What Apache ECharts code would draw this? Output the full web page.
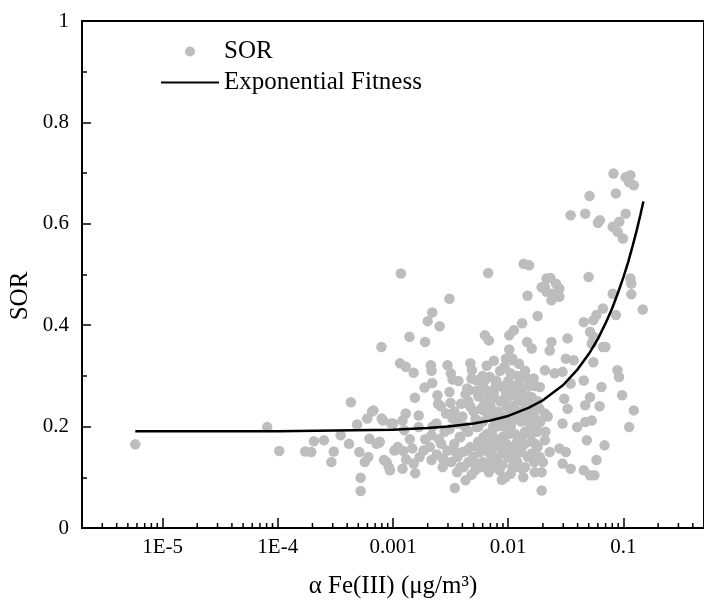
<!DOCTYPE html>
<html><head><meta charset="utf-8">
<script src="https://cdn.jsdelivr.net/npm/echarts@6/dist/echarts.min.js"></script>
<style>html,body{margin:0;padding:0;background:#fff}#c{width:704px;height:608px}</style>
</head><body><div id="c"></div>
<script>
const xTickValues = [1e-5, 1e-4, 1e-3, 1e-2, 1e-1];
const xTickLabels = ['1E-5', '1E-4', '0.001', '0.01', '0.1'];
const xMinorTicks = [3e-6,4e-6,5e-6,6e-6,7e-6,8e-6,9e-6,
  2e-5,3e-5,4e-5,5e-5,6e-5,7e-5,8e-5,9e-5,
  2e-4,3e-4,4e-4,5e-4,6e-4,7e-4,8e-4,9e-4,
  2e-3,3e-3,4e-3,5e-3,6e-3,7e-3,8e-3,9e-3,
  0.02,0.03,0.04,0.05,0.06,0.07,0.08,0.09,
  0.2,0.3,0.4];

// SOR scatter points: [alpha Fe(III) (ug/m3), SOR]
const sorPoints = [
[5.8e-6,0.165],[8.1e-5,0.199],[1.03e-4,0.152],[1.73e-4,0.151],[1.95e-4,0.150],[2.06e-4,0.171],[2.52e-4,0.173],
[3.06e-4,0.151],[2.92e-4,0.130],[3.51e-4,0.183],[4.15e-4,0.166],[4.31e-4,0.248],[4.88e-4,0.204],[5.24e-4,0.099],
[5.24e-4,0.073],[5.1e-4,0.150],[5.69e-4,0.130],[5.98e-4,0.216],[6.59e-4,0.230],[6.25e-4,0.176],[6.1e-4,0.140],
[7.57e-4,0.168],[7.98e-4,0.216],[8.36e-4,0.134],[9.2e-4,0.120],[1.0e-3,0.206],[1.03e-3,0.153],[1.21e-3,0.117],
[1.23e-3,0.152],[1.25e-3,0.193],
[3.09e-3,0.452],[2.19e-3,0.425],[2.0e-3,0.408],[2.54e-3,0.398],[1.39e-3,0.377],[1.9e-3,0.367],[7.94e-4,0.357],
[6.28e-3,0.380],[6.79e-3,0.370],[1.02e-2,0.380],[1.02e-2,0.352],[1.15e-3,0.325],[1.29e-3,0.318],[1.51e-3,0.306],
[2.13e-3,0.321],[2.16e-3,0.310],[2.97e-3,0.321],[3.18e-3,0.305],[3.29e-3,0.293],[4.69e-3,0.325],[4.84e-3,0.311],
[1.88e-3,0.277],[2.19e-3,0.286],[2.43e-3,0.262],[2.46e-3,0.245],[3.09e-3,0.268],[3.16e-3,0.247],[1.55e-3,0.257],
[4.26e-3,0.264],[4.6e-3,0.272],[5.34e-3,0.291],[6.08e-3,0.278],[6.92e-3,0.298],[7.87e-3,0.291],[8.97e-3,0.278],
[9.3e-3,0.318],[1.09e-2,0.334],[9.56e-3,0.334],[7.37e-3,0.272],[6.49e-3,0.252],[4.69e-3,0.239],[6.08e-3,0.232],
[7.87e-3,0.229],[1.02e-2,0.239],[3.63e-3,0.206],[2.89e-3,0.226],[3.29e-3,0.216],[1.29e-3,0.226],[1.67e-3,0.222],
[1.21e-3,0.212],[9.64e-4,0.206],[7.67e-4,0.170],[8.2e-4,0.212],[2.16e-3,0.183],[2.09e-3,0.160],[1.84e-3,0.153],
[1.47e-3,0.157],[1.1e-3,0.160],[8.8e-4,0.130],[9.4e-4,0.114],[1.51e-3,0.127],[1.56e-3,0.108],[2.16e-3,0.134],
[2.71e-3,0.137],[2.97e-3,0.153],[3.4e-3,0.166],[3.63e-3,0.140],[3.85e-3,0.120],[4.26e-3,0.094],[3.44e-3,0.079],
[5.17e-3,0.114],[4.4e-3,0.153],[5.34e-3,0.160],[6.08e-3,0.179],[6.92e-3,0.147],[6.49e-3,0.127],[8.4e-3,0.114],
[8.13e-3,0.140],[8.97e-3,0.173],[1.05e-2,0.153],[1.09e-2,0.120],[4.4e-3,0.193],[5.34e-3,0.199],[7.37e-3,0.199],
[9.56e-3,0.206],[3.85e-3,0.179],[2.62e-3,0.166],[2.38e-3,0.206],[1.67e-3,0.199],
[2.08e-2,0.475],[2.44e-2,0.462],[2.78e-2,0.472],[2.37e-2,0.449],[1.47e-2,0.458],[1.8e-2,0.418],[1.32e-2,0.404],
[1.12e-2,0.390],[1.46e-2,0.367],[1.6e-2,0.354],[2.29e-2,0.350],[2.37e-2,0.367],[3.27e-2,0.374],[4.52e-2,0.406],
[5.48e-2,0.410],[5.83e-2,0.420],[6.64e-2,0.433],[6.64e-2,0.357],[8.07e-2,0.462],[8.6e-2,0.420],[5.13e-2,0.387],
[5.3e-2,0.364],[3.16e-2,0.334],[3.7e-2,0.331],[5.48e-2,0.327],[2.08e-2,0.311],[2.52e-2,0.305],[2.96e-2,0.308],
[1.24e-2,0.324],[1.09e-2,0.331],[1.41e-2,0.298],[1.66e-2,0.295],[1.88e-2,0.278],[3.48e-2,0.285],[4.52e-2,0.291],
[6.44e-2,0.278],[8.87e-2,0.311],[9.16e-2,0.298],[9.74e-2,0.262],[5.13e-2,0.258],[4.66e-2,0.242],[6.21e-2,0.240],
[3.06e-2,0.255],[3.27e-2,0.235],[2.96e-2,0.206],[3.96e-2,0.199],[4.66e-2,0.209],[5.3e-2,0.212],[4.81e-2,0.173],
[6.85e-2,0.163],[2.78e-2,0.157],[3.16e-2,0.150],[2.96e-2,0.127],[3.48e-2,0.117],[4.52e-2,0.114],[5.13e-2,0.104],
[5.83e-2,0.134],[1.95e-2,0.110],[1.95e-2,0.074],[1.32e-2,0.117],[1.05e-2,0.107],[2.29e-2,0.150],[2.08e-2,0.173],
[1.82e-2,0.206],[2.08e-2,0.226],[1.41e-2,0.226],[1.24e-2,0.252],[1.6e-2,0.258],[1.09e-2,0.212],[1.41e-2,0.186],
[1.16e-2,0.160],[1.6e-2,0.147],[1.71e-2,0.166],[1.02e-2,0.186],
[8.19e-2,0.699],[0.1045,0.692],[0.115,0.696],[0.123,0.676],[0.112,0.682],[8.6e-2,0.660],[6.24e-2,0.607],
[0.1045,0.620],[9.2e-2,0.604],[8.07e-2,0.594],[8.9e-2,0.584],[9.9e-2,0.571],[0.115,0.492],[0.117,0.482],
[0.117,0.461],[0.147,0.431],[6.97e-2,0.357],[0.123,0.232],[0.112,0.199],[5.6e-2,0.104],
[1.17e-3,0.502],[6.7e-3,0.503],[1.36e-2,0.521],[1.52e-2,0.518],[2.15e-2,0.492],[2.32e-2,0.493],[1.95e-2,0.475],
[2.15e-2,0.466],[2.6e-2,0.482],[2.78e-2,0.456],[4.98e-2,0.495],[5.08e-2,0.655],[3.48e-2,0.617],[4.66e-2,0.620],
[6.0e-2,0.602],[5.48e-2,0.377],[6.76e-4,0.232],[7.2e-4,0.166],
[0.004,0.22],[0.0045,0.19],[0.005,0.23],[0.0055,0.17],[0.006,0.21],[0.0065,0.185],[0.007,0.24],[0.0075,0.16],
[0.008,0.2],[0.0085,0.25],[0.009,0.18],[0.0095,0.22],[0.0105,0.2],[0.011,0.24],[0.012,0.17],[0.013,0.21],
[0.014,0.19],[0.015,0.23],[0.016,0.17],[0.017,0.2],[0.018,0.25],[0.0045,0.25],[0.0055,0.26],[0.0065,0.27],
[0.0075,0.265],[0.0085,0.28],[0.0095,0.27],[0.011,0.28],[0.013,0.27],[0.015,0.26],[0.017,0.28],[0.012,0.3],
[0.014,0.31],[0.0085,0.31],[0.0075,0.33],[0.0065,0.32],[0.006,0.3],[0.01,0.29],[0.005,0.14],[0.006,0.13],
[0.007,0.15],[0.008,0.13],[0.009,0.15],[0.01,0.14],[0.011,0.16],[0.012,0.13],[0.013,0.15],[0.014,0.12],
[0.016,0.14],[0.018,0.16],[0.004,0.15],[0.0045,0.13],[0.0035,0.15],[0.0038,0.18],[0.0042,0.2],[0.0068,0.11],
[0.0078,0.12],[0.0095,0.1],[0.0115,0.12],[0.0135,0.1],[0.0048,0.105],[0.0058,0.12],[0.0088,0.095],[0.017,0.11],
[0.02,0.13],[0.021,0.19],[0.022,0.22],[0.019,0.21],[0.0055,0.2],[0.0072,0.19],[0.0092,0.2],[0.0115,0.185],
[0.0135,0.23],[0.0155,0.205],[0.0062,0.245],[0.0082,0.23],[0.0102,0.26],[0.0122,0.25],[0.0142,0.245],[0.0162,0.24],
[0.0032,0.13],[0.0036,0.11],[0.0041,0.12],[0.0047,0.16],[0.0052,0.125],[0.0057,0.15],[0.0063,0.16],[0.0069,0.17],
[0.0074,0.135],[0.0079,0.175],[0.0084,0.16],[0.0089,0.125],[0.0098,0.165],[0.0108,0.135],[0.0118,0.145],[0.0128,0.175],
[0.0138,0.165],[0.0148,0.14],[0.0158,0.185],[0.0168,0.13],[0.0178,0.19],[0.0188,0.14],[0.0052,0.215],[0.0058,0.235],
[0.0067,0.225],[0.0077,0.215],[0.0087,0.215],[0.0097,0.24],[0.0107,0.225],[0.0117,0.215],[0.0127,0.23],[0.0147,0.215],
[0.0167,0.22],[0.0187,0.235],[0.0072,0.255],[0.0092,0.255],[0.0112,0.265],[0.0132,0.26],[0.0152,0.28],[0.0079,0.285],
[0.0105,0.305],[0.0125,0.285],[0.0062,0.29],[0.0053,0.27],[0.0028,0.19],[0.0025,0.175],[0.0022,0.2],[0.0019,0.175],
[0.0017,0.14],[0.0014,0.175],[0.0013,0.135],[0.0024,0.145],[0.0027,0.12],[0.0031,0.195],[0.0034,0.23],[0.0039,0.245],
[0.0044,0.275],[0.0037,0.29],[0.0026,0.24],[0.0048,0.295]
];

// Exponential fit curve
const fitFe  = [5.8e-6, 1e-5, 1e-4, 1e-3, 0.002, 0.003, 0.005, 0.007, 0.01, 0.015, 0.02, 0.03, 0.04, 0.05, 0.06, 0.07, 0.08, 0.09, 0.1, 0.11, 0.12, 0.13, 0.14, 0.149];
const fitSor = [0.191, 0.191, 0.191, 0.194, 0.197, 0.200, 0.206, 0.212, 0.221, 0.237, 0.252, 0.282, 0.313, 0.343, 0.373, 0.404, 0.434, 0.465, 0.495, 0.525, 0.556, 0.586, 0.617, 0.644];

const FONT = 'Liberation Serif';
const chart = echarts.init(document.getElementById('c'), null, {renderer: 'canvas'});

function xLabel(v) {
  for (let i = 0; i < xTickValues.length; i++) {
    if (Math.abs(Math.log10(v) - Math.log10(xTickValues[i])) < 1e-6) return xTickLabels[i];
  }
  return '';
}

chart.setOption({
  animation: false,
  backgroundColor: '#fff',
  grid: {left: 82, top: 21, width: 642, height: 507, show: true, borderColor: '#000', borderWidth: 2, backgroundColor: 'transparent'},
  legend: {
    left: 160, top: 39, padding: 0, orient: 'vertical', itemWidth: 58, itemHeight: 10, itemGap: 6,
    textStyle: {fontFamily: FONT, fontSize: 25, color: '#000'},
    data: [{name: 'SOR', icon: 'circle'}, {name: 'Exponential Fitness', itemStyle: {opacity: 0}}]
  },
  xAxis: {
    type: 'log', logBase: 10, min: 2e-6, max: 0.5,
    name: 'α Fe(III) (μg/m³)', nameLocation: 'middle', nameGap: 46,
    nameTextStyle: {fontFamily: FONT, fontSize: 25, color: '#000'},
    axisLine: {show: true, lineStyle: {color: '#000', width: 2}},
    axisTick: {show: true, inside: true, length: 10, lineStyle: {color: '#000', width: 1.5}},
    axisLabel: {formatter: xLabel, showMinLabel: false, showMaxLabel: false, margin: 9,
      fontFamily: FONT, fontSize: 21, color: '#000'},
    splitLine: {show: false}
  },
  yAxis: {
    type: 'value', min: 0, max: 1, interval: 0.2,
    axisLine: {show: true, lineStyle: {color: '#000', width: 2}},
    axisTick: {show: true, inside: true, length: 9, lineStyle: {color: '#000', width: 1.5}},
    minorTick: {show: true, splitNumber: 2, length: 5, lineStyle: {color: '#000', width: 1.5}},
    axisLabel: {margin: 13, fontFamily: FONT, fontSize: 21, color: '#000'},
    splitLine: {show: false}
  },
  graphic: [{
    type: 'text', x: 20, y: 296, rotation: Math.PI / 2,
    style: {text: 'SOR', fontFamily: FONT, fontSize: 25, fill: '#000', align: 'center', verticalAlign: 'middle'}
  }],
  series: [
    {
      name: 'SOR', type: 'scatter', symbol: 'circle', symbolSize: 10.5,
      itemStyle: {color: '#bdbdbd', opacity: 1},
      data: sorPoints, z: 2
    },
    {
      name: 'Exponential Fitness', type: 'line', showSymbol: false, symbol: 'none', smooth: false,
      lineStyle: {color: '#000', width: 2.5}, itemStyle: {color: '#000'},
      data: fitFe.map((v, i) => [v, fitSor[i]]), z: 3
    },
    {
      name: 'minorTicks', type: 'custom', silent: true, z: 4,
      data: xMinorTicks.map(v => [v, 0]),
      renderItem: function (params, api) {
        const p = api.coord([api.value(0), 0]);
        return {type: 'line', shape: {x1: p[0], y1: p[1], x2: p[0], y2: p[1] - 5},
          style: {stroke: '#000', lineWidth: 1.5}};
      }
    }
  ]
});
</script>
</body></html>
